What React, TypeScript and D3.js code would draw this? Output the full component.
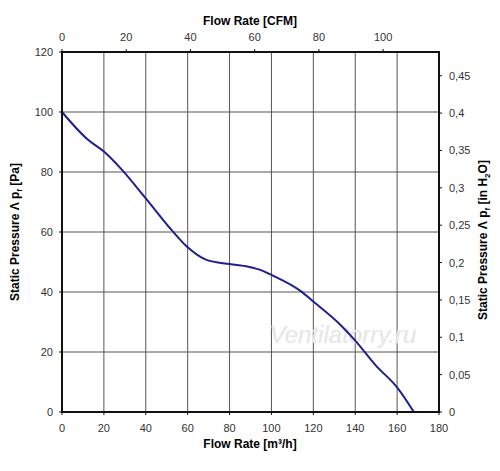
import React, { useEffect } from "react";
import * as d3 from "d3";

// flow rate in m3/h and static pressure in Pa
const flow = [0, 12, 20, 28, 40, 53, 60, 69, 80, 89, 95, 100, 114, 120, 133, 140, 150, 160, 168];
const pressure = [100, 91, 86.8, 81.2, 71.2, 60.1, 54.9, 50.7, 49.3, 48.4, 47.3, 45.7, 40.3, 36.8, 29, 23.8, 15.4, 8.2, 0];

const bottomTicks = [0, 20, 40, 60, 80, 100, 120, 140, 160, 180];
const leftTicks = [0, 20, 40, 60, 80, 100, 120];
const topTicks = [0, 20, 40, 60, 80, 100];
const rightTicks = [0, 0.05, 0.1, 0.15, 0.2, 0.25, 0.3, 0.35, 0.4, 0.45];

const W = 500;
const H = 471;
const margin = { top: 52, right: 61, bottom: 59, left: 62 };

const App: React.FC = () => {
  useEffect(() => {
    document.body.style.margin = "0";
  }, []);

  const x = d3.scaleLinear().domain([0, 180]).range([margin.left, W - margin.right]);
  const y = d3.scaleLinear().domain([0, 120]).range([H - margin.bottom, margin.top]);
  const xTop = d3.scaleLinear().domain([0, 117.4]).range([margin.left, W - margin.right]);
  const yRight = d3.scaleLinear().domain([0, 120 / 249.09]).range([H - margin.bottom, margin.top]);

  const pts = flow.map((f, i) => [f, pressure[i]] as [number, number]);
  const line = d3
    .line<[number, number]>()
    .x((d) => x(d[0]))
    .y((d) => y(d[1]))
    .curve(d3.curveMonotoneX);

  const x0 = margin.left;
  const x1 = W - margin.right;
  const y0 = margin.top;
  const y1 = H - margin.bottom;
  const tickFont = { fontFamily: "Liberation Sans, Arial, sans-serif", fontSize: 11, fill: "#333" };
  const titleFont = { fontFamily: "Liberation Sans, Arial, sans-serif", fontSize: 12, fontWeight: 700, fill: "#000" };
  const comma = (v: number) => String(+v.toFixed(2)).replace(".", ",");

  return (
    <div style={{ position: "absolute", left: 0, top: 0 }}>
      <svg width={W} height={H} style={{ display: "block", background: "#fff" }}>
        {/* grid */}
        {bottomTicks.slice(1, -1).map((t) => (
          <line key={"gx" + t} x1={x(t)} x2={x(t)} y1={y0} y2={y1} stroke="#555" strokeWidth={1} />
        ))}
        {leftTicks.slice(1, -1).map((t) => (
          <line key={"gy" + t} x1={x0} x2={x1} y1={y(t)} y2={y(t)} stroke="#555" strokeWidth={1} />
        ))}

        {/* watermark */}
        <text
          x={343}
          y={343}
          textAnchor="middle"
          fontFamily="Liberation Sans, Arial, sans-serif"
          fontStyle="italic"
          fontSize={24}
          fill="#e2e2e2"
          stroke="#f2f2f2"
          strokeWidth={0.6}
        >
          Ventilatorry.ru
        </text>

        {/* curve */}
        <path d={line(pts) ?? ""} fill="none" stroke="#1f1f8f" strokeWidth={2} />

        {/* frame */}
        <rect x={x0} y={y0} width={x1 - x0} height={y1 - y0} fill="none" stroke="#111" strokeWidth={2} />

        {/* bottom axis */}
        {bottomTicks.map((t) => (
          <g key={"b" + t}>
            <line x1={x(t)} x2={x(t)} y1={y1} y2={y1 + 3} stroke="#111" />
            <text x={x(t)} y={y1 + 20} textAnchor="middle" {...tickFont}>
              {t}
            </text>
          </g>
        ))}
        {/* left axis */}
        {leftTicks.map((t) => (
          <g key={"l" + t}>
            <line x1={x0 - 3} x2={x0} y1={y(t)} y2={y(t)} stroke="#111" />
            <text x={x0 - 9} y={y(t) + 4} textAnchor="end" {...tickFont}>
              {t}
            </text>
          </g>
        ))}
        {/* top axis */}
        {topTicks.map((t) => (
          <g key={"t" + t}>
            <line x1={xTop(t)} x2={xTop(t)} y1={y0 - 3} y2={y0} stroke="#111" />
            <text x={xTop(t)} y={y0 - 11} textAnchor="middle" {...tickFont}>
              {t}
            </text>
          </g>
        ))}
        {/* right axis */}
        {rightTicks.map((t) => (
          <g key={"r" + t}>
            <line x1={x1} x2={x1 + 3} y1={yRight(t)} y2={yRight(t)} stroke="#111" />
            <text x={x1 + 10} y={yRight(t) + 4} textAnchor="start" {...tickFont}>
              {comma(t)}
            </text>
          </g>
        ))}

        {/* titles */}
        <text x={250} y={25} textAnchor="middle" {...titleFont}>
          Flow Rate [CFM]
        </text>
        <text x={250} y={448} textAnchor="middle" {...titleFont}>
          Flow Rate [m³/h]
        </text>
        <text transform={`translate(19,${(y0 + y1) / 2}) rotate(-90)`} textAnchor="middle" {...titleFont}>
          Static Pressure Λ p<tspan fontSize={8} dy={3}>f</tspan>
          <tspan dy={-3}> [Pa]</tspan>
        </text>
        <text transform={`translate(487,240) rotate(-90)`} textAnchor="middle" {...titleFont}>
          Static Pressure Λ p<tspan fontSize={8} dy={3}>f</tspan>
          <tspan dy={-3}> [in H</tspan>
          <tspan fontSize={8} dy={3}>2</tspan>
          <tspan dy={-3}>O]</tspan>
        </text>
      </svg>
    </div>
  );
};

export default App;
